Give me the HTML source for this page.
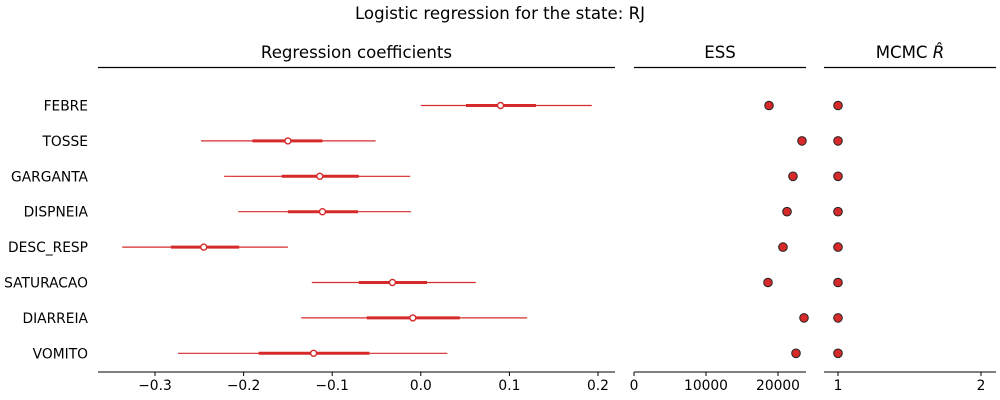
<!DOCTYPE html>
<html><head><meta charset="utf-8"><style>
body{margin:0;background:#fff;}
svg{display:block;font-family:"DejaVu Sans","Liberation Sans",sans-serif;}
</style></head><body>
<svg id="chart" width="1000" height="400" viewBox="0 0 1000 400" xmlns="http://www.w3.org/2000/svg">
<text x="500" y="19" text-anchor="middle" font-size="16.6">Logistic regression for the state: RJ</text>
<g id="g"></g>
</svg>
<script>
const categories=["FEBRE","TOSSE","GARGANTA","DISPNEIA","DESC_RESP","SATURACAO","DIARREIA","VOMITO"];
const hdiLow=[0.0,-0.248,-0.222,-0.206,-0.337,-0.123,-0.135,-0.274];
const hdiHigh=[0.193,-0.051,-0.012,-0.011,-0.15,0.062,0.12,0.03];
const iqrLow=[0.051,-0.19,-0.157,-0.15,-0.282,-0.07,-0.061,-0.183];
const iqrHigh=[0.13,-0.111,-0.07,-0.071,-0.205,0.007,0.044,-0.058];
const medians=[0.09,-0.15,-0.114,-0.111,-0.245,-0.032,-0.009,-0.121];
const ess=[18750,23330,22080,21250,20690,18610,23610,22500];
const rhat=[1.0,1.0,1.0,1.0,1.0,1.0,1.0,1.0];
const coefTicks=[-0.3,-0.2,-0.1,0.0,0.1,0.2];
const coefTickLabels=["−0.3","−0.2","−0.1","0.0","0.1","0.2"];
const essTicks=[0,10000,20000];
const essTickLabels=["0","10000","20000"];
const rhatTicks=[1,2];
const rhatTickLabels=["1","2"];

const NS="http://www.w3.org/2000/svg";
const g=document.getElementById('g');
const red="#d62a2a";
function mk(t,a,p){const e=document.createElementNS(NS,t);for(const k in a)e.setAttribute(k,a[k]);(p||g).appendChild(e);return e;}
function lin(d0,d1,r0,r1){return v=>r0+(v-d0)/(d1-d0)*(r1-r0);}
const y=i=>105.5+i*35.4;
const axisY=372;
const panels=[
 {x0:98,x1:615,sx:lin(-0.3,0.2,155,598),ticks:coefTicks,labels:coefTickLabels,title:"Regression coefficients",name:"coefficients"},
 {x0:634,x1:806,sx:lin(0,20000,634,778),ticks:essTicks,labels:essTickLabels,title:"ESS",name:"ess"},
 {x0:824,x1:996,sx:lin(1,2,838,981),ticks:rhatTicks,labels:rhatTickLabels,title:"MCMC ",name:"rhat"}
];
panels.forEach(p=>{
 let t=mk('text',{x:(p.x0+p.x1)/2,y:58,'text-anchor':'middle','font-size':16.6});
 t.textContent=p.title;
 if(p.name==='rhat'){const ts=mk('tspan',{'font-style':'italic'},t);ts.textContent='R̂';}
 
 
 let l=mk('line',{x1:p.x0,x2:p.x1,y1:67.5,y2:67.5,stroke:'#000','stroke-width':1.2});
 
 
 let a=mk('line',{x1:p.x0,x2:p.x1,y1:axisY,y2:axisY,stroke:'#000','stroke-width':1});
 
 
 p.ticks.forEach((v,i)=>{
  const x=p.sx(v);
  let tk=mk('line',{x1:x,x2:x,y1:axisY,y2:axisY+4,stroke:'#000'});
  
  
  let tl=mk('text',{x:x,y:axisY+18,'text-anchor':'middle','font-size':13.8});
  tl.textContent=p.labels[i];
  
  
 });
});
const P=panels[0],E=panels[1],R=panels[2];
categories.forEach((c,i)=>{
 const yy=y(i);
 let lb=mk('text',{x:88,y:yy+5,'text-anchor':'end','font-size':13.8});
 lb.textContent=c;
 
 
 let h=mk('line',{x1:P.sx(hdiLow[i]),x2:P.sx(hdiHigh[i]),y1:yy,y2:yy,stroke:red,'stroke-width':1.2});
 
 
 let q=mk('line',{x1:P.sx(iqrLow[i]),x2:P.sx(iqrHigh[i]),y1:yy,y2:yy,stroke:red,'stroke-width':3});
 
 
 let m=mk('circle',{cx:P.sx(medians[i]),cy:yy,r:3,fill:'#fff',stroke:red,'stroke-width':1.4});
 
 
 let e=mk('circle',{cx:E.sx(ess[i]),cy:yy,r:4.3,fill:red,stroke:'#222','stroke-width':1});
 
 
 let r=mk('circle',{cx:R.sx(rhat[i]),cy:yy,r:4.3,fill:red,stroke:'#222','stroke-width':1});
 
 
});
</script>
</body></html>
